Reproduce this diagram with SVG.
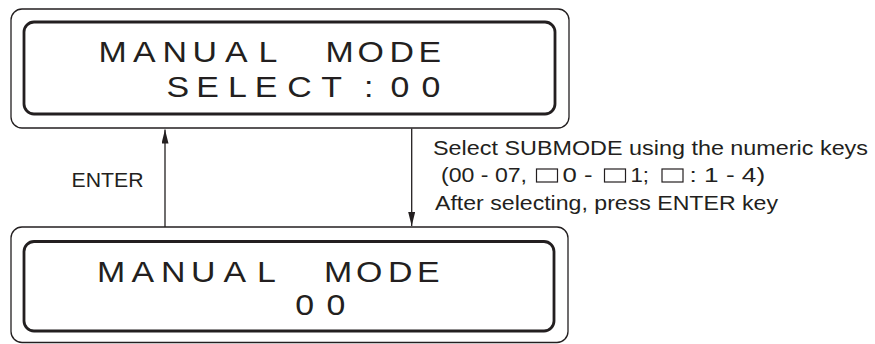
<svg xmlns="http://www.w3.org/2000/svg" width="875" height="344" viewBox="0 0 875 344">
<style>
.outer{fill:none;stroke:#231f20;stroke-width:1.3}
.inner{fill:none;stroke:#231f20;stroke-width:2.8}
.lcd{font-family:"Liberation Sans",Arial,Helvetica,sans-serif;font-size:30px;fill:#231f20}
.lbl{font-family:"Liberation Sans",Arial,Helvetica,sans-serif;font-size:20px;fill:#231f20}
.conn{fill:none;stroke:#231f20;stroke-width:1.3}
.key{fill:none;stroke:#231f20;stroke-width:1.2}
</style>
<defs>
<marker id="ah" markerUnits="userSpaceOnUse" viewBox="0 0 14 7" markerWidth="14" markerHeight="7" refX="14" refY="3.5" orient="auto">
<path d="M0,0 L14,3.5 L0,7 z" fill="#231f20"/>
</marker>
</defs>
<rect width="875" height="344" fill="#ffffff"/>
<g id="node-select">
<rect class="outer" x="11" y="9" width="558" height="119" rx="11"/>
<rect class="inner" x="24" y="22" width="531" height="92" rx="10"/>
<g transform="scale(1.13 1)">
<text class="lcd" x="87.17 117.70 143.72 170.27 199.12 228.76 252.21 288.05 316.28 344.60 370.27" y="62">MANUAL MODE</text>
<text class="lcd" x="147.35 173.63 201.77 225.40 254.25 284.25 322.04 345.66 373.10" y="97">SELECT:00</text>
</g>
</g>
<g id="node-mode">
<rect class="outer" x="11" y="227" width="557" height="115.5" rx="11"/>
<rect class="inner" x="24" y="241.5" width="530" height="89.5" rx="10"/>
<g transform="scale(1.13 1)">
<text class="lcd" x="85.84 116.37 142.39 168.94 197.79 227.43 250.88 286.72 314.95 343.27 368.94" y="282">MANUAL MODE</text>
<text class="lcd" x="261.33 289.03" y="315">00</text>
</g>
</g>
<g id="connectors">
<line class="conn" x1="165" y1="227" x2="165" y2="129.5" marker-end="url(#ah)"/>
<line class="conn" x1="411.7" y1="128.5" x2="411.7" y2="226" marker-end="url(#ah)"/>
</g>
<g id="labels">
<text class="lbl" x="71.5" y="186.7" font-size="19.5" textLength="72" lengthAdjust="spacingAndGlyphs">ENTER</text>
<text class="lbl" x="433" y="155.3" textLength="435" lengthAdjust="spacingAndGlyphs">Select SUBMODE using the numeric keys</text>
<text class="lbl" x="441" y="182" textLength="86" lengthAdjust="spacingAndGlyphs">(00 - 07,</text>
<rect class="key" x="536.5" y="169" width="21" height="13"/>
<text class="lbl" x="562.5" y="182" textLength="30" lengthAdjust="spacingAndGlyphs">0 -</text>
<rect class="key" x="604.5" y="169" width="21" height="13"/>
<text class="lbl" x="630.5" y="182" textLength="18.5" lengthAdjust="spacingAndGlyphs">1;</text>
<rect class="key" x="662" y="169" width="21" height="13"/>
<text class="lbl" x="689.6" y="182" textLength="75.5" lengthAdjust="spacingAndGlyphs">: 1 - 4)</text>
<text class="lbl" x="435" y="209.5" textLength="343" lengthAdjust="spacingAndGlyphs">After selecting, press ENTER key</text>
</g>
</svg>
